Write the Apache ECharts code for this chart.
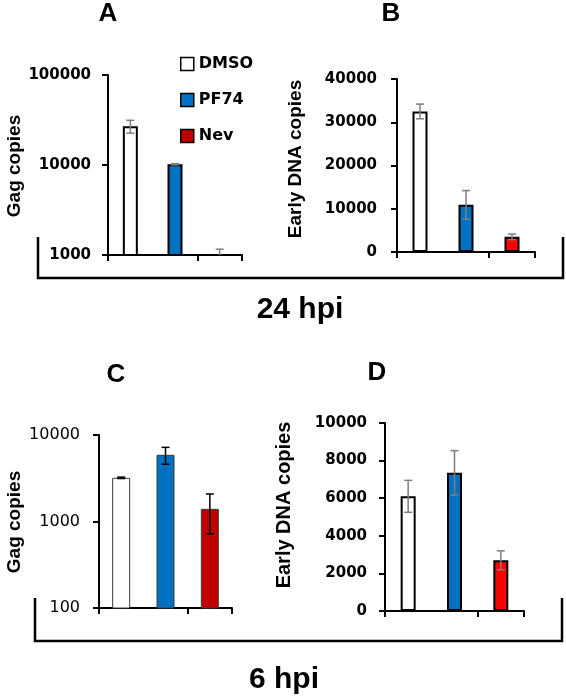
<!DOCTYPE html>
<html>
<head>
<meta charset="utf-8">
<script src="https://cdn.jsdelivr.net/npm/echarts@6/dist/echarts.min.js"></script>
<style>
html,body{margin:0;padding:0;background:#fff;}
#chart{width:566px;height:697px;}
</style>
</head>
<body>
<div id="chart"></div>
<script>
// ---- data ----
const categories = ['DMSO', 'PF74', 'Nev'];
// A: 24 hpi, Gag copies (log)
const gagA = [27000, 10200, 1000];
const gagAErr = [4400, 150, 160];
// B: 24 hpi, Early DNA copies
const dnaB = [32500, 10900, 3500];
const dnaBErr = [1700, 3300, 650];
// C: 6 hpi, Gag copies (log)
const gagC = [3200, 5900, 1400];
const gagCErr = [60, 1300, 680];
// D: 6 hpi, Early DNA copies
const dnaD = [6100, 7350, 2700];
const dnaDErr = [850, 1180, 500];
// tick values
const ticksA = [1000, 10000, 100000];
const ticksB = [0, 10000, 20000, 30000, 40000];
const ticksC = [100, 1000, 10000];
const ticksD = [0, 2000, 4000, 6000, 8000, 10000];

const panels = [
  {vals: gagA, errs: gagAErr, ticks: ticksA, log: true,
   grid: {left: 108, top: 75, width: 134, height: 180},
   fills: ['#ffffff', '#0070c0', '#c00000'], border: '#000', bw: 2, barW: 15, errColor: '#7f7f7f',
   label: {fontFamily: 'DejaVu Sans', fontWeight: 'bold', fontSize: 15, margin: 17}},
  {vals: dnaB, errs: dnaBErr, ticks: ticksB, log: false,
   grid: {left: 397, top: 79, width: 138, height: 173},
   fills: ['#ffffff', '#0070c0', '#ff0000'], border: '#000', bw: 2, barW: 15, errColor: '#7f7f7f',
   label: {fontFamily: 'DejaVu Sans', fontWeight: 'bold', fontSize: 15, margin: 20}},
  {vals: gagC, errs: gagCErr, ticks: ticksC, log: true,
   grid: {left: 99, top: 435, width: 133, height: 173},
   fills: ['#ffffff', '#0070c0', '#c00000'], border: '#3a3a3a', bw: 1, barW: 18, errColor: '#000',
   label: {fontFamily: 'DejaVu Sans', fontWeight: 'normal', fontSize: 16, margin: 19}},
  {vals: dnaD, errs: dnaDErr, ticks: ticksD, log: false,
   grid: {left: 385, top: 423, width: 139, height: 188},
   fills: ['#ffffff', '#0070c0', '#ff0000'], border: '#000', bw: 2, barW: 15, errColor: '#7f7f7f',
   label: {fontFamily: 'DejaVu Sans', fontWeight: 'bold', fontSize: 15, margin: 18}}
];

const grids = [], xAxes = [], yAxes = [], series = [];
panels.forEach((p, gi) => {
  grids.push(Object.assign({containLabel: false}, p.grid));
  xAxes.push({
    type: 'category', gridIndex: gi, data: categories, boundaryGap: true,
    axisLine: {lineStyle: {color: '#000', width: 2}},
    axisTick: {show: true, length: 6, lineStyle: {color: '#000', width: 2}},
    axisLabel: {show: false}, splitLine: {show: false}
  });
  const tmin = p.ticks[0], tmax = p.ticks[p.ticks.length - 1];
  const y = {
    gridIndex: gi, min: tmin, max: tmax,
    axisLine: {show: true, lineStyle: {color: '#000', width: 2}},
    axisTick: {show: true, length: 6, lineStyle: {color: '#000', width: 2}},
    splitLine: {show: false},
    axisLabel: Object.assign({color: '#000', formatter: v => String(Math.round(v))}, p.label)
  };
  if (p.log) { y.type = 'log'; y.logBase = 10; }
  else { y.type = 'value'; y.interval = p.ticks[1] - p.ticks[0]; }
  yAxes.push(y);

  categories.forEach((c, j) => {
    series.push({
      type: 'bar', name: c, xAxisIndex: gi, yAxisIndex: gi,
      data: categories.map((cc, k) => k === j ? p.vals[k] : '-'),
      barWidth: p.barW, barGap: '-100%', clip: true,
      itemStyle: {color: p.fills[j], borderColor: p.border, borderWidth: p.bw},
      emphasis: {disabled: true}, z: 2
    });
  });
  const minV = tmin;
  series.push({
    type: 'custom', xAxisIndex: gi, yAxisIndex: gi, z: 5,
    data: categories.map((c, k) => [k, p.vals[k], p.errs[k]]),
    encode: {x: 0, y: 1},
    renderItem: (params, api) => {
      const i = api.value(0), v = api.value(1), e = api.value(2);
      const hi = api.coord([i, v + e]);
      const loV = v - e;
      const lo = api.coord([i, Math.max(loV, minV)]);
      const hw = 4;
      const st = {stroke: p.errColor, lineWidth: 1.5};
      const ch = [
        {type: 'line', shape: {x1: hi[0], y1: hi[1], x2: lo[0], y2: lo[1]}, style: st},
        {type: 'line', shape: {x1: hi[0] - hw, y1: hi[1], x2: hi[0] + hw, y2: hi[1]}, style: st}
      ];
      if (loV >= minV) ch.push({type: 'line', shape: {x1: lo[0] - hw, y1: lo[1], x2: lo[0] + hw, y2: lo[1]}, style: st});
      return {type: 'group', children: ch};
    }
  });
});

function txt(text, x, y, size, rot, family) {
  return {type: 'text', x: x, y: y, rotation: rot || 0,
    style: {text: text, fill: '#000', font: 'bold ' + size + 'px ' + (family || '"Liberation Sans"'),
      textAlign: 'center', textVerticalAlign: 'middle'}};
}

const graphics = [
  txt('A', 108, 14, 26), txt('B', 391, 14, 26), txt('C', 116, 375, 26), txt('D', 377, 373, 26),
  txt('Gag copies', 15, 166, 19, Math.PI / 2),
  txt('Early DNA copies', 296, 159, 19, Math.PI / 2),
  txt('Gag copies', 15, 522, 19, Math.PI / 2),
  txt('Early DNA copies', 284, 505, 20, Math.PI / 2),
  txt('24 hpi', 300, 310, 30), txt('6 hpi', 284, 680, 30),
  {type: 'polyline', shape: {points: [[38, 237], [38, 278], [563, 278], [563, 237]]}, style: {stroke: '#000', lineWidth: 2.5, fill: null}},
  {type: 'polyline', shape: {points: [[35, 598], [35, 641], [562, 641], [562, 598]]}, style: {stroke: '#000', lineWidth: 2.5, fill: null}}
];

const chart = echarts.init(document.getElementById('chart'), null, {renderer: 'canvas'});
chart.setOption({
  animation: false,
  backgroundColor: '#fff',
  grid: grids, xAxis: xAxes, yAxis: yAxes, series: series,
  legend: {
    data: categories, orient: 'vertical', left: 175, top: 51,
    itemWidth: 13, itemHeight: 13, itemGap: 20, icon: 'rect',
    itemStyle: {borderColor: '#000', borderWidth: 1.5},
    textStyle: {fontFamily: 'DejaVu Sans', fontWeight: 'bold', fontSize: 16, color: '#000', lineHeight: 16}
  },
  graphic: graphics
});
</script>
</body>
</html>
